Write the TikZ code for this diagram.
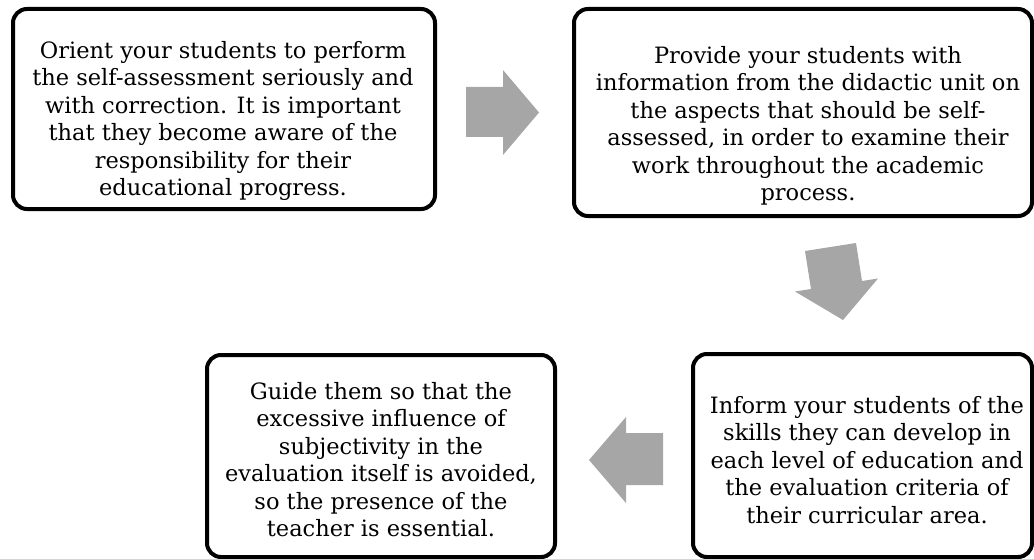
\documentclass[tikz,border=0pt]{standalone}
\usepackage{fontspec}
\setmainfont{DejaVu Serif}
\definecolor{arrowgray}{HTML}{A6A6A6}
\tikzset{
  stepbox/.style={draw=black, line width=4pt, rounded corners=14pt, fill=white, inner sep=0pt},
  steptext/.style={inner sep=0pt, align=center, font=\fontsize{22.5}{27.5}\selectfont},
  blockarrow/.style={fill=arrowgray, draw=none}
}
\begin{document}
\begin{tikzpicture}[x=1pt,y=-1pt]
\useasboundingbox (0,0) rectangle (1034,559);
% boxes
\node[stepbox, minimum width=422pt, minimum height=200pt] (b1) at (224,109) {};
\node[stepbox, minimum width=458pt, minimum height=207pt] (b2) at (803,112.5) {};
\node[stepbox, minimum width=339pt, minimum height=203pt] (b3) at (862.5,455.5) {};
\node[stepbox, minimum width=348pt, minimum height=202pt] (b4) at (381,456) {};
% texts
\node[steptext] (t1) at (223,121) {Orient your students to perform\\the self-assessment seriously and\\with correction. It is important\\that they become aware of the\\responsibility for their\\educational progress.};
\node[steptext] (t2) at (808,126) {Provide your students with\\information from the didactic unit on\\the aspects that should be self-\\assessed, in order to examine their\\work throughout the academic\\process.};
\node[steptext] (t3) at (867,459.7) {Inform your students of the\\skills they can develop in\\each level of education and\\the evaluation criteria of\\their curricular area.};
\node[steptext] (t4) at (381,459.7) {Guide them so that the\\excessive influence of\\subjectivity in the\\evaluation itself is avoided,\\so the presence of the\\teacher is essential.};
% block arrows
\fill[blockarrow] (466,87) -- (503,87) -- (503,70) -- (539,112.5) -- (503,155) -- (503,137) -- (466,137) -- cycle;
\fill[blockarrow] (805,251) -- (856,243) -- (862,281) -- (878,278.5) -- (843,320) -- (795,291.5) -- (811,289) -- cycle;
\fill[blockarrow] (663,433) -- (626,433) -- (626,417) -- (589,460) -- (626,503) -- (626,485) -- (663,485) -- cycle;
\end{tikzpicture}
\end{document}
